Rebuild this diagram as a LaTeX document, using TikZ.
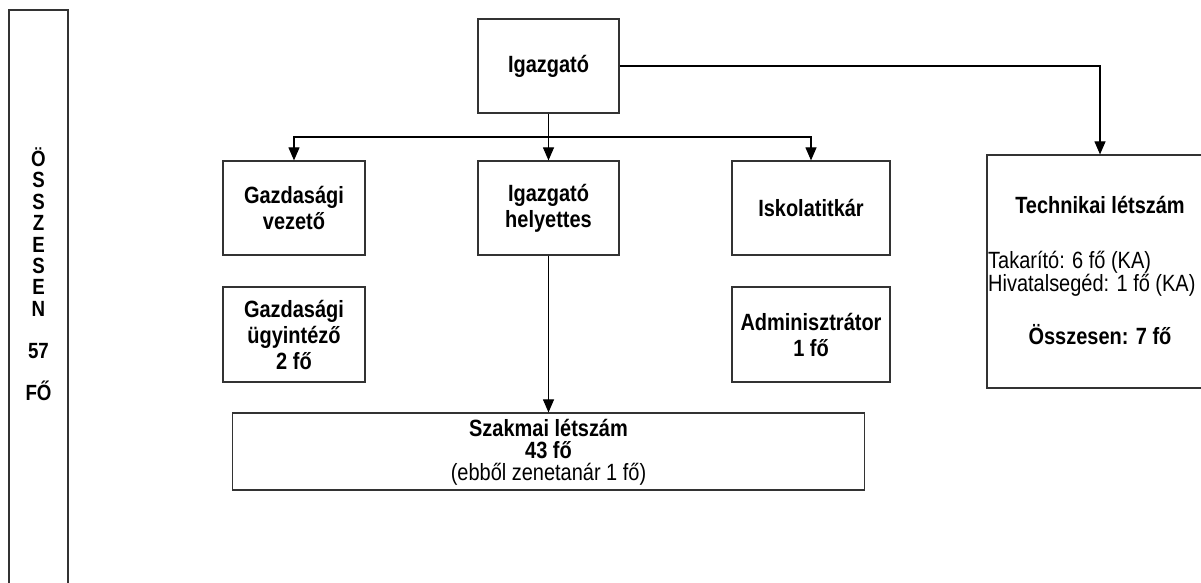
\documentclass[tikz,border=0pt]{standalone}
\usepackage{fontspec}
\setmainfont{Liberation Sans}
\newfontfamily\diagfont[FakeStretch=0.85]{Liberation Sans}
\usetikzlibrary{arrows.meta}
\tikzset{
  box/.style={draw=black!80, line width=1.2pt, rectangle, inner sep=0pt, align=center,
    font=\diagfont\fontsize{23.5}{26}\selectfont\bfseries},
  link/.style={draw=black, line width=1.1pt},
  arr/.style={link, -{Triangle[length=13pt,width=11pt]}},
  plain/.style={inner sep=0pt, font=\diagfont\fontsize{23.5}{23}\selectfont},
  bold/.style={inner sep=0pt, font=\diagfont\fontsize{23.5}{23}\selectfont\bfseries},
}
\begin{document}
\begin{tikzpicture}[x=1pt,y=-1pt]
\useasboundingbox (0,0) rectangle (1201,583);
% left total box
\node[box, minimum width=59pt, minimum height=600pt] (tot) at (38.5,310) {};
\node[inner sep=0pt, align=center, font=\diagfont\fontsize{22}{21.4}\selectfont\bfseries] (totl) at (38.5,274)
  {Ö\\S\\S\\Z\\E\\S\\E\\N\\[21pt]57\\[20pt]FŐ};
% top
\node[box, minimum width=141pt, minimum height=94pt] (ig) at (548.5,66) {Igazgató};
% second row
\node[box, minimum width=142pt, minimum height=94pt] (gv) at (294,208) {Gazdasági\\vezető};
\node[box, minimum width=141pt, minimum height=94pt] (ih) at (548.5,208) {Igazgató\\helyettes};
\node[box, minimum width=158pt, minimum height=94pt] (isk) at (811,208) {Iskolatitkár};
% third row
\node[box, minimum width=142pt, minimum height=95pt] (gu) at (294,334.5) {Gazdasági\\ügyintéző\\2 fő};
\node[box, minimum width=158pt, minimum height=95pt] (adm) at (811,334.5) {Adminisztrátor\\1 fő};
% szakmai
\node[box, minimum width=632pt, minimum height=77pt] (sz) at (548.5,451.5) {};
\node[bold, align=center, font=\diagfont\fontsize{23.5}{22}\selectfont\bfseries] (szt) at (548.5,452)
  {Szakmai létszám\\43 fő\\\mdseries(ebből zenetanár 1 fő)};
% technikai
\node[box, minimum width=226pt, minimum height=233pt] (tech) at (1100,271.5) {};
\node[bold] (t1) at (1100,205) {Technikai létszám};
\node[plain, anchor=west, align=left] (t2) at (988,273.5) {Takarító: 6 fő (KA)\\Hivatalsegéd: 1 fő (KA)};
\node[bold] (t4) at (1100,335) {Összesen: 7 fő};
% connectors
\coordinate (bus) at (548.5,137);
\draw[link] (ig.south) -- (bus);
\draw[arr] (bus) -| (gv.north);
\draw[arr] (bus) -- (ih.north);
\draw[arr] (bus) -| (isk.north);
\draw[arr] (ig.east) -| (tech.north);
\draw[arr] (ih.south) -- (sz.north -| ih.south);
\end{tikzpicture}
\end{document}
